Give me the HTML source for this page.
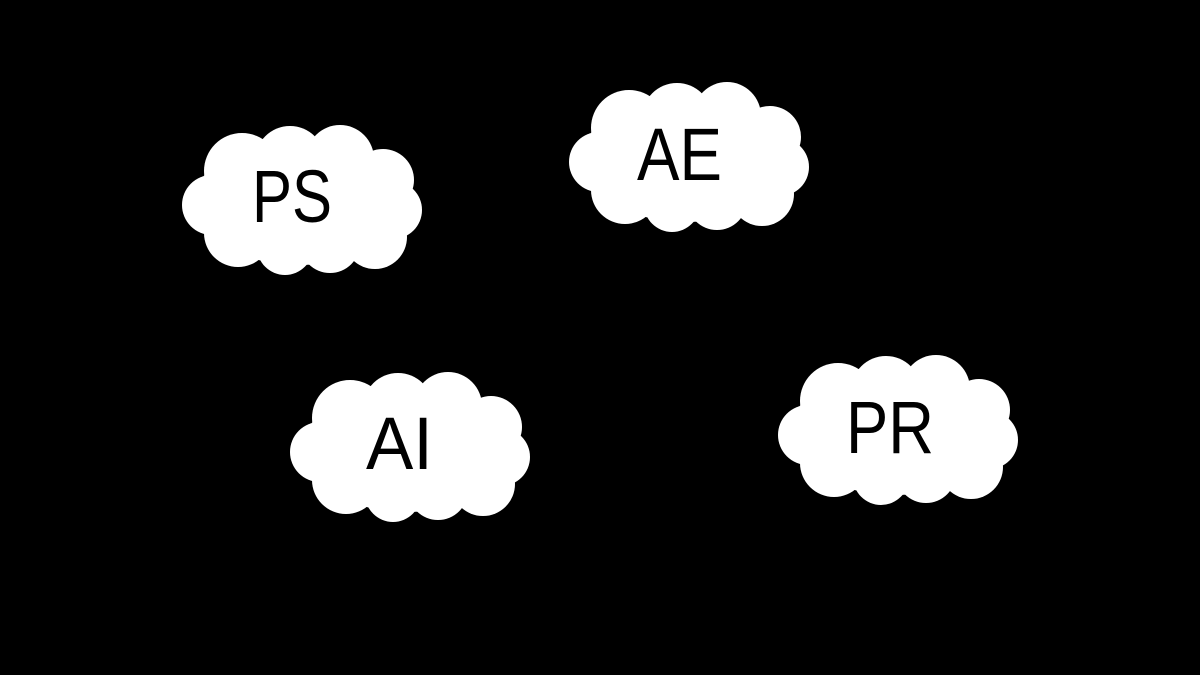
<!DOCTYPE html>
<html><head><style>html,body{margin:0;padding:0;background:#000;}svg{display:block}</style></head>
<body>
<svg width="1200" height="675" viewBox="0 0 1200 675" xmlns="http://www.w3.org/2000/svg">
<defs>
<g id="c" fill="#fff">
<circle cx="62" cy="46" r="38"/><circle cx="110" cy="36" r="35"/><circle cx="160" cy="34" r="34"/>
<circle cx="203" cy="55" r="31"/><circle cx="213" cy="85" r="29"/><circle cx="195" cy="112" r="32"/>
<circle cx="150" cy="118" r="30"/><circle cx="105" cy="122" r="28"/><circle cx="58" cy="108" r="34"/>
<circle cx="32" cy="80" r="30"/><ellipse cx="121" cy="78" rx="108" ry="62"/>
</g>
</defs>
<use href="#c" x="180" y="125"/>
<use href="#c" x="567" y="82"/>
<use href="#c" x="288" y="372"/>
<use href="#c" x="776" y="355"/>
<g font-family="Liberation Sans, sans-serif" font-size="74" fill="#000">
<text x="252" y="222" textLength="80" lengthAdjust="spacingAndGlyphs">PS</text>
<text x="637" y="180" textLength="85" lengthAdjust="spacingAndGlyphs">AE</text>
<text x="366" y="469" textLength="67" lengthAdjust="spacingAndGlyphs">AI</text>
<text x="846" y="453" textLength="88" lengthAdjust="spacingAndGlyphs">PR</text>
</g>
</svg>
</body></html>
